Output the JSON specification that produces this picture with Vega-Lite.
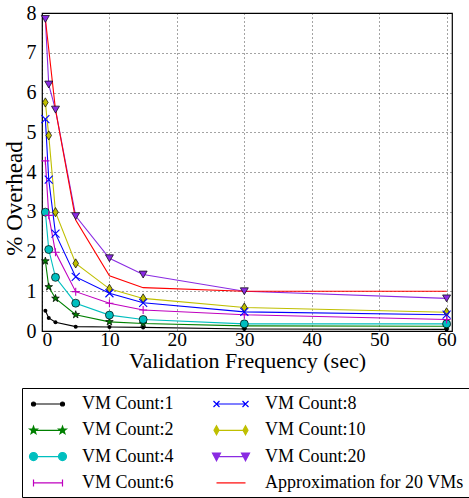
{
  "$schema": "https://vega.github.io/schema/vega-lite/v6.json",
  "autosize": "none",
  "width": 410,
  "height": 318,
  "padding": {"left": 42, "top": 13, "right": 17, "bottom": 167},
  "background": "white",
  "config": {
    "font": "Liberation Serif",
    "view": {"stroke": "black", "strokeWidth": 1.2},
    "axis": {
      "labelFont": "Liberation Serif", "titleFont": "Liberation Serif",
      "labelColor": "black", "titleColor": "black", "titleFontWeight": "normal",
      "domain": false, "grid": true, "gridColor": "black", "gridDash": [1, 3], "gridWidth": 0.8, "gridOpacity": 0.9,
      "ticks": false
    },
    "legend": {"labelFont": "Liberation Serif"}
  },
  "data": {"values": [
    {"series": "VM Count:1", "freq": 0.5, "overhead": 0.51},
    {"series": "VM Count:1", "freq": 1, "overhead": 0.33},
    {"series": "VM Count:1", "freq": 2, "overhead": 0.22},
    {"series": "VM Count:1", "freq": 5, "overhead": 0.11},
    {"series": "VM Count:1", "freq": 10, "overhead": 0.1},
    {"series": "VM Count:1", "freq": 15, "overhead": 0.09},
    {"series": "VM Count:1", "freq": 30, "overhead": 0.05},
    {"series": "VM Count:1", "freq": 60, "overhead": 0.04},
    {"series": "VM Count:2", "freq": 0.5, "overhead": 1.76},
    {"series": "VM Count:2", "freq": 1, "overhead": 1.11},
    {"series": "VM Count:2", "freq": 2, "overhead": 0.82},
    {"series": "VM Count:2", "freq": 5, "overhead": 0.41},
    {"series": "VM Count:2", "freq": 10, "overhead": 0.23},
    {"series": "VM Count:2", "freq": 15, "overhead": 0.19},
    {"series": "VM Count:2", "freq": 30, "overhead": 0.13},
    {"series": "VM Count:2", "freq": 60, "overhead": 0.12},
    {"series": "VM Count:4", "freq": 0.5, "overhead": 2.99},
    {"series": "VM Count:4", "freq": 1, "overhead": 2.05},
    {"series": "VM Count:4", "freq": 2, "overhead": 1.35},
    {"series": "VM Count:4", "freq": 5, "overhead": 0.7},
    {"series": "VM Count:4", "freq": 10, "overhead": 0.4},
    {"series": "VM Count:4", "freq": 15, "overhead": 0.29},
    {"series": "VM Count:4", "freq": 30, "overhead": 0.18},
    {"series": "VM Count:4", "freq": 60, "overhead": 0.18},
    {"series": "VM Count:6", "freq": 0.5, "overhead": 4.28},
    {"series": "VM Count:6", "freq": 1, "overhead": 2.91},
    {"series": "VM Count:6", "freq": 2, "overhead": 1.98},
    {"series": "VM Count:6", "freq": 5, "overhead": 0.99},
    {"series": "VM Count:6", "freq": 10, "overhead": 0.7},
    {"series": "VM Count:6", "freq": 15, "overhead": 0.53},
    {"series": "VM Count:6", "freq": 30, "overhead": 0.41},
    {"series": "VM Count:6", "freq": 60, "overhead": 0.29},
    {"series": "VM Count:8", "freq": 0.5, "overhead": 5.33},
    {"series": "VM Count:8", "freq": 1, "overhead": 3.81},
    {"series": "VM Count:8", "freq": 2, "overhead": 2.45},
    {"series": "VM Count:8", "freq": 5, "overhead": 1.36},
    {"series": "VM Count:8", "freq": 10, "overhead": 0.95},
    {"series": "VM Count:8", "freq": 15, "overhead": 0.71},
    {"series": "VM Count:8", "freq": 30, "overhead": 0.48},
    {"series": "VM Count:8", "freq": 60, "overhead": 0.41},
    {"series": "VM Count:10", "freq": 0.5, "overhead": 5.75},
    {"series": "VM Count:10", "freq": 1, "overhead": 4.92},
    {"series": "VM Count:10", "freq": 2, "overhead": 2.99},
    {"series": "VM Count:10", "freq": 5, "overhead": 1.7},
    {"series": "VM Count:10", "freq": 10, "overhead": 1.06},
    {"series": "VM Count:10", "freq": 15, "overhead": 0.82},
    {"series": "VM Count:10", "freq": 30, "overhead": 0.59},
    {"series": "VM Count:10", "freq": 60, "overhead": 0.47},
    {"series": "VM Count:20", "freq": 0.5, "overhead": 7.85},
    {"series": "VM Count:20", "freq": 1, "overhead": 6.2},
    {"series": "VM Count:20", "freq": 2, "overhead": 5.57},
    {"series": "VM Count:20", "freq": 5, "overhead": 2.89},
    {"series": "VM Count:20", "freq": 10, "overhead": 1.83},
    {"series": "VM Count:20", "freq": 15, "overhead": 1.42},
    {"series": "VM Count:20", "freq": 30, "overhead": 1.0},
    {"series": "VM Count:20", "freq": 60, "overhead": 0.82},
    {"series": "Approximation for 20 VMs", "freq": 0.5, "overhead": 7.85},
    {"series": "Approximation for 20 VMs", "freq": 2, "overhead": 5.57},
    {"series": "Approximation for 20 VMs", "freq": 5, "overhead": 2.79},
    {"series": "Approximation for 20 VMs", "freq": 10, "overhead": 1.39},
    {"series": "Approximation for 20 VMs", "freq": 15, "overhead": 1.09},
    {"series": "Approximation for 20 VMs", "freq": 30, "overhead": 1.0},
    {"series": "Approximation for 20 VMs", "freq": 60, "overhead": 1.0}
  ]},
  "encoding": {
    "x": {"field": "freq", "type": "quantitative",
      "scale": {"domain": [0, 60.8], "nice": false},
      "axis": {"title": "Validation Frequency (sec)", "values": [0, 10, 20, 30, 40, 50, 60],
        "labelFontSize": 19.5, "titleFontSize": 22, "labelPadding": -1, "titleBaseline": "alphabetic", "titleY": 36.5}},
    "y": {"field": "overhead", "type": "quantitative",
      "scale": {"domain": [0, 8], "nice": false},
      "axis": {"title": "% Overhead", "values": [0, 1, 2, 3, 4, 5, 6, 7, 8],
        "labelFontSize": 20, "titleFontSize": 23, "labelPadding": 6, "titleX": -16, "titleY": 185}},
    "color": {"field": "series", "type": "nominal",
      "scale": {"domain": ["VM Count:1", "VM Count:8", "VM Count:2", "VM Count:10", "VM Count:4", "VM Count:20", "VM Count:6", "Approximation for 20 VMs"],
        "range": ["#000000", "#0000ff", "#008000", "#bfbf00", "#00bfbf", "#8a2be2", "#bf00bf", "#ff0000"]}}
  },
  "layer": [
    {
      "mark": {"type": "point", "opacity": 0, "filled": true},
      "encoding": {
        "color": {"field": "series", "type": "nominal",
          "legend": {
            "title": null, "orient": "none", "legendX": -20, "legendY": 375,
            "columns": 2, "direction": "horizontal",
            "labelFont": "Liberation Serif", "labelFontSize": 18, "labelColor": "black", "labelLimit": 400,
            "symbolSize": 400, "symbolOffset": 10, "labelOffset": 23, "columnPadding": 36, "rowPadding": 6.3,
            "padding": 5, "strokeColor": "black", "fillColor": "white", "symbolOpacity": 1, "symbolStrokeWidth": 1.2
          }},
        "shape": {"field": "series", "type": "nominal",
          "scale": {"domain": ["VM Count:1", "VM Count:8", "VM Count:2", "VM Count:10", "VM Count:4", "VM Count:20", "VM Count:6", "Approximation for 20 VMs"],
            "range": [
              "M-1.45,0H1.45M-1.25,0C-1.25,0.11,-1.34,0.2,-1.45,0.2C-1.56,0.2,-1.65,0.11,-1.65,0C-1.65,-0.11,-1.56,-0.2,-1.45,-0.2C-1.34,-0.2,-1.25,-0.11,-1.25,0ZM1.65,0C1.65,0.11,1.56,0.2,1.45,0.2C1.34,0.2,1.25,0.11,1.25,0C1.25,-0.11,1.34,-0.2,1.45,-0.2C1.56,-0.2,1.65,-0.11,1.65,0Z",
              "M-1.45,0H1.45M-1.75,-0.3L-1.15,0.3M-1.75,0.3L-1.15,-0.3M1.15,-0.3L1.75,0.3M1.15,0.3L1.75,-0.3",
              "M-1.45,0H1.45M-1.45,-0.4L-1.356,-0.13L-1.07,-0.124L-1.298,0.049L-1.215,0.324L-1.45,0.16L-1.685,0.324L-1.602,0.049L-1.83,-0.124L-1.544,-0.13ZM1.45,-0.4L1.544,-0.13L1.83,-0.124L1.602,0.049L1.685,0.324L1.45,0.16L1.215,0.324L1.298,0.049L1.07,-0.124L1.356,-0.13Z",
              "M-1.45,0H1.45M-1.45,-0.45L-1.2,0L-1.45,0.45L-1.7,0ZM1.45,-0.45L1.7,0L1.45,0.45L1.2,0Z",
              "M-1.45,0H1.45M-1.05,0C-1.05,0.221,-1.229,0.4,-1.45,0.4C-1.671,0.4,-1.85,0.221,-1.85,0C-1.85,-0.221,-1.671,-0.4,-1.45,-0.4C-1.229,-0.4,-1.05,-0.221,-1.05,0ZM1.85,0C1.85,0.221,1.671,0.4,1.45,0.4C1.229,0.4,1.05,0.221,1.05,0C1.05,-0.221,1.229,-0.4,1.45,-0.4C1.671,-0.4,1.85,-0.221,1.85,0Z",
              "M-1.45,0H1.45M-1.85,-0.35L-1.05,-0.35L-1.45,0.4ZM1.05,-0.35L1.85,-0.35L1.45,0.4Z",
              "M-1.45,0H1.45M-1.45,-0.35V0.35M1.45,-0.35V0.35",
              "M-1.45,0H1.45"
            ]},
          "legend": {
            "title": null, "orient": "none", "legendX": -20, "legendY": 375,
            "columns": 2, "direction": "horizontal",
            "labelFont": "Liberation Serif", "labelFontSize": 18, "labelColor": "black", "labelLimit": 400,
            "symbolSize": 400, "symbolOffset": 10, "labelOffset": 23, "columnPadding": 36, "rowPadding": 6.3,
            "padding": 5, "strokeColor": "black", "fillColor": "white", "symbolOpacity": 1, "symbolStrokeWidth": 1.2
          }
        }
      }
    },
    {
      "mark": {"type": "line", "strokeWidth": 1.1}
    },
    {
      "transform": [{"filter": {"field": "series", "equal": "VM Count:1"}}],
      "mark": {"type": "point", "filled": true, "size": 16, "shape": "circle", "opacity": 1}
    },
    {
      "transform": [{"filter": {"field": "series", "equal": "VM Count:2"}}],
      "mark": {"type": "point", "filled": true, "size": 64, "stroke": "black", "strokeWidth": 0.7, "opacity": 1,
        "shape": "M0,-1L0.235,-0.324L0.951,-0.309L0.38,0.124L0.588,0.809L0,0.4L-0.588,0.809L-0.38,0.124L-0.951,-0.309L-0.235,-0.324Z"}
    },
    {
      "transform": [{"filter": {"field": "series", "equal": "VM Count:4"}}],
      "mark": {"type": "point", "filled": true, "size": 64, "stroke": "black", "strokeWidth": 0.7, "opacity": 1, "shape": "circle"}
    },
    {
      "transform": [{"filter": {"field": "series", "equal": "VM Count:10"}}],
      "mark": {"type": "point", "filled": true, "size": 64, "stroke": "black", "strokeWidth": 0.7, "opacity": 1, "shape": "M0,-1.15L0.7,0L0,1.15L-0.7,0Z"}
    },
    {
      "transform": [{"filter": {"field": "series", "equal": "VM Count:20"}}],
      "mark": {"type": "point", "filled": true, "size": 64, "stroke": "black", "strokeWidth": 0.7, "opacity": 1, "shape": "triangle-down"}
    },
    {
      "transform": [{"filter": {"field": "series", "equal": "VM Count:6"}}],
      "mark": {"type": "point", "filled": false, "size": 64, "strokeWidth": 1.1, "opacity": 1, "shape": "M-1,0H1M0,-1V1"}
    },
    {
      "transform": [{"filter": {"field": "series", "equal": "VM Count:8"}}],
      "mark": {"type": "point", "filled": false, "size": 64, "strokeWidth": 1.1, "opacity": 1, "shape": "M-1,-1L1,1M-1,1L1,-1"}
    }
  ]
}
